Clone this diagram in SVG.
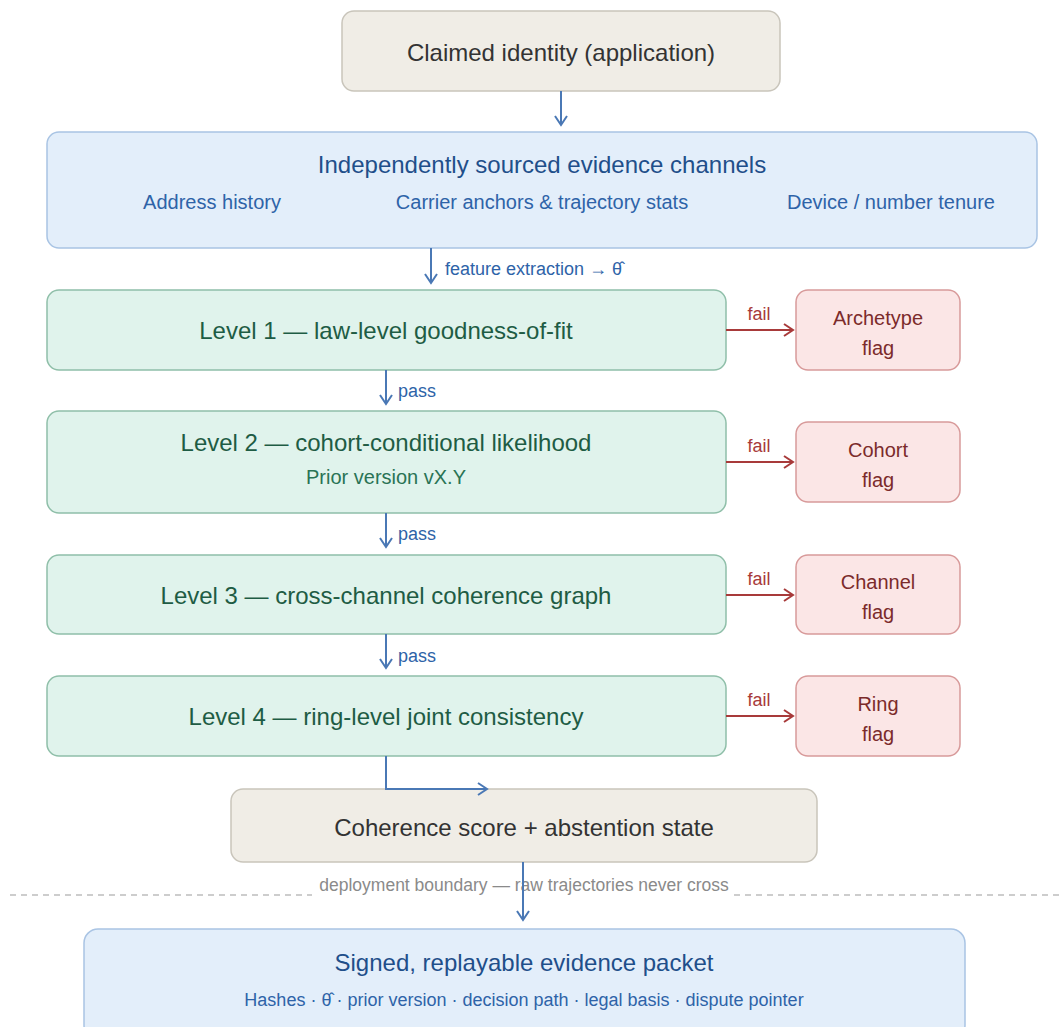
<svg xmlns="http://www.w3.org/2000/svg" width="1059" height="1027" viewBox="0 0 1059 1027">
<defs>
<marker id="ab" markerWidth="14" markerHeight="14" refX="11" refY="7" orient="auto" markerUnits="userSpaceOnUse"><path d="M2,1 L11,7 L2,13" fill="none" stroke="#4a78b5" stroke-width="2"/></marker>
<marker id="ar" markerWidth="14" markerHeight="14" refX="11" refY="7" orient="auto" markerUnits="userSpaceOnUse"><path d="M2,1 L11,7 L2,13" fill="none" stroke="#a83a3a" stroke-width="2"/></marker>
</defs>
<style>
text{font-family:"Liberation Sans",Arial,sans-serif;text-anchor:middle}
.neu{fill:#f0ede6;stroke:#c9c5bb;stroke-width:1.5}
.ev{fill:#e3eefa;stroke:#a9c4e4;stroke-width:1.5}
.lv{fill:#e0f3ec;stroke:#8fbfa9;stroke-width:1.5}
.fl{fill:#fbe6e6;stroke:#d89a9a;stroke-width:1.5}
.tn{font-size:24px;fill:#333}
.te{font-size:24px;fill:#1f4f8a}
.ts{font-size:20px;fill:#2e63a8}
.tl{font-size:24px;fill:#1e5c44}
.tls{font-size:20px;fill:#2a7355}
.tf{font-size:20px;fill:#7b2b2b}
.cb{stroke:#4a78b5;stroke-width:2;fill:none}
.cr{stroke:#a83a3a;stroke-width:2;fill:none}
.lb{font-size:18px;fill:#2e63a8;text-anchor:start}
.lr{font-size:18px;fill:#a83a3a}
</style>
<rect width="1059" height="1027" fill="#ffffff"/>
<g id="claimed"><rect class="neu" x="342" y="11" width="438" height="80" rx="12"/><text class="tn" x="561" y="61">Claimed identity (application)</text></g>
<g id="evidence"><rect class="ev" x="47" y="132" width="990" height="116" rx="12"/><text class="te" x="542" y="173">Independently sourced evidence channels</text>
<text class="ts" x="212" y="209">Address history</text><text class="ts" x="542" y="209">Carrier anchors &amp; trajectory stats</text><text class="ts" x="891" y="209">Device / number tenure</text></g>
<g id="level1"><rect class="lv" x="47" y="290" width="679" height="80" rx="12"/><text class="tl" x="386" y="339">Level 1 — law-level goodness-of-fit</text></g>
<g id="archetype"><rect class="fl" x="796" y="290" width="164" height="80" rx="12"/><text class="tf" x="878" y="325">Archetype</text><text class="tf" x="878" y="355">flag</text></g>
<g id="level2"><rect class="lv" x="47" y="411" width="679" height="102" rx="12"/><text class="tl" x="386" y="451">Level 2 — cohort-conditional likelihood</text><text class="tls" x="386" y="484">Prior version vX.Y</text></g>
<g id="cohort"><rect class="fl" x="796" y="422" width="164" height="80" rx="12"/><text class="tf" x="878" y="457">Cohort</text><text class="tf" x="878" y="487">flag</text></g>
<g id="level3"><rect class="lv" x="47" y="555" width="679" height="79" rx="12"/><text class="tl" x="386" y="604">Level 3 — cross-channel coherence graph</text></g>
<g id="channel"><rect class="fl" x="796" y="555" width="164" height="79" rx="12"/><text class="tf" x="878" y="589">Channel</text><text class="tf" x="878" y="619">flag</text></g>
<g id="level4"><rect class="lv" x="47" y="676" width="679" height="80" rx="12"/><text class="tl" x="386" y="725">Level 4 — ring-level joint consistency</text></g>
<g id="ring"><rect class="fl" x="796" y="676" width="164" height="80" rx="12"/><text class="tf" x="878" y="711">Ring</text><text class="tf" x="878" y="741">flag</text></g>
<g id="score"><rect class="neu" x="231" y="789" width="586" height="73" rx="12"/><text class="tn" x="524" y="836">Coherence score + abstention state</text></g>
<g id="boundary"><line x1="10" y1="895" x2="312" y2="895" stroke="#bdbdbd" stroke-width="1.5" stroke-dasharray="6,5"/><line x1="734" y1="895" x2="1059" y2="895" stroke="#bdbdbd" stroke-width="1.5" stroke-dasharray="6,5"/><text x="524" y="891" style="font-size:17.5px;fill:#8a8a8a">deployment boundary — raw trajectories never cross</text></g>
<g id="packet"><rect class="ev" x="84" y="929" width="881" height="110" rx="14"/><text class="te" x="524" y="971">Signed, replayable evidence packet</text><text class="ts" x="524" y="1006" style="font-size:18px">Hashes · θ̂ · prior version · decision path · legal basis · dispute pointer</text></g>
<g id="connectors">
<line class="cb" x1="561" y1="91" x2="561" y2="125" marker-end="url(#ab)"/>
<line class="cb" x1="431" y1="248" x2="431" y2="283" marker-end="url(#ab)"/>
<text class="lb" x="445" y="275">feature extraction → θ̂</text>
<line class="cb" x1="386" y1="370" x2="386" y2="404" marker-end="url(#ab)"/><text class="lb" x="398" y="397">pass</text>
<line class="cb" x1="386" y1="513" x2="386" y2="547" marker-end="url(#ab)"/><text class="lb" x="398" y="540">pass</text>
<line class="cb" x1="386" y1="634" x2="386" y2="668" marker-end="url(#ab)"/><text class="lb" x="398" y="662">pass</text>
<polyline class="cb" points="386,756 386,789 487,789" marker-end="url(#ab)"/>
<line class="cb" x1="523" y1="862" x2="523" y2="920" marker-end="url(#ab)"/>
<line class="cr" x1="726" y1="330" x2="793" y2="330" marker-end="url(#ar)"/><text class="lr" x="759" y="320">fail</text>
<line class="cr" x1="726" y1="462" x2="793" y2="462" marker-end="url(#ar)"/><text class="lr" x="759" y="452">fail</text>
<line class="cr" x1="726" y1="595" x2="793" y2="595" marker-end="url(#ar)"/><text class="lr" x="759" y="585">fail</text>
<line class="cr" x1="726" y1="716" x2="793" y2="716" marker-end="url(#ar)"/><text class="lr" x="759" y="706">fail</text>
</g>
</svg>
